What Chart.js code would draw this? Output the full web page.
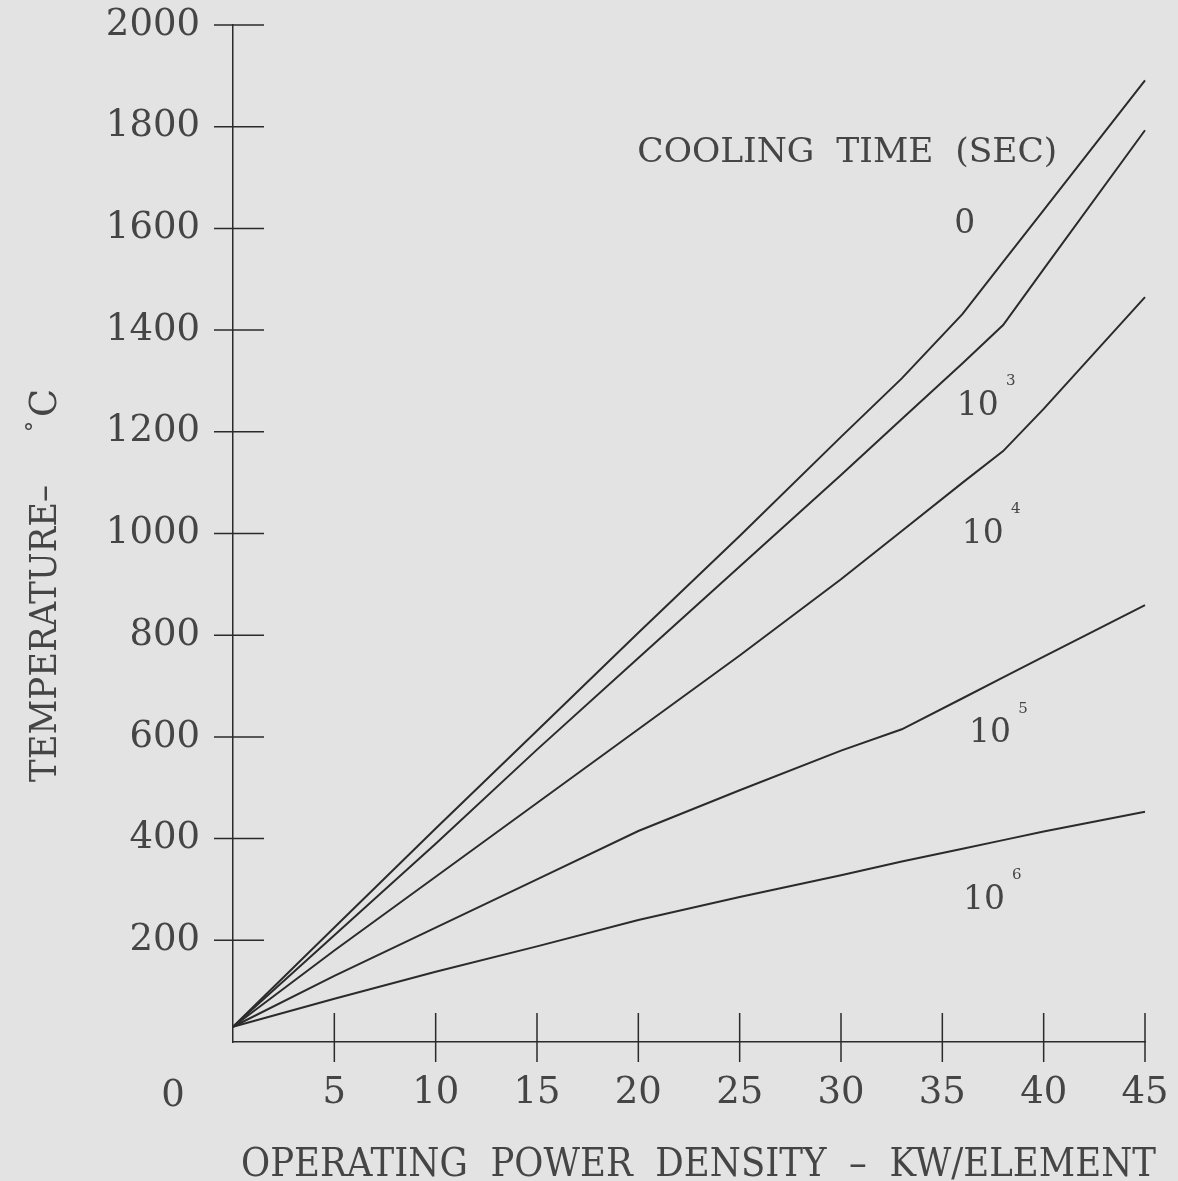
<!DOCTYPE html>
<html>
<head>
<meta charset="utf-8">
<script src="https://cdn.jsdelivr.net/npm/chart.js"></script>
<style>
  html, body { margin: 0; padding: 0; background: #e3e3e3; }
  #wrap { width: 1178px; height: 1181px; }
</style>
</head>
<body>
<div id="wrap"><canvas id="temp-chart" width="1178" height="1181"></canvas></div>
<script>
// operating power density (kW/element) sample points
const power = [0, 5, 10, 15, 20, 25, 30, 33, 36, 38, 40, 45];

// peak temperature (deg C) for each cooling time
const temp0   = [30, 225, 420, 612, 805, 995, 1190, 1305, 1432, 1534, 1636, 1891];
const temp1e3 = [30, 210, 390, 575, 755, 935, 1115, 1225, 1335, 1410, 1520, 1793];
const temp1e4 = [30, 180, 325, 470, 615, 760, 910, 1005, 1100, 1162, 1245, 1465];
const temp1e5 = [30, 130, 225, 320, 415, 495, 573, 615, 676, 717, 758, 859];
const temp1e6 = [30, 85, 138, 188, 240, 285, 328, 355, 380, 397, 414, 453];

const coolingTimes = ['0', '10^3', '10^4', '10^5', '10^6'];
const seriesTemps = [temp0, temp1e3, temp1e4, temp1e5, temp1e6];

const xTicks = [0, 5, 10, 15, 20, 25, 30, 35, 40, 45];
const yTicks = [0, 200, 400, 600, 800, 1000, 1200, 1400, 1600, 1800, 2000];

const xTitle = 'OPERATING  POWER  DENSITY  \u2013  KW/ELEMENT';
const yTitle = 'TEMPERATURE\u2013';
const legendTitle = 'COOLING  TIME  (SEC)';

// where each cooling-time label sits, in data units
const curveLabels = [
  { base: '0',  sup: '',  p: 36.1,  t: 1607 },
  { base: '10', sup: '3', p: 36.75, t: 1250 },
  { base: '10', sup: '4', p: 37.0,  t: 999 },
  { base: '10', sup: '5', p: 37.35, t: 606 },
  { base: '10', sup: '6', p: 37.05, t: 279 }
];

const INK = '#2b2b2b';
const TEXT = '#454545';
const SERIF = '"DejaVu Serif", "Liberation Serif", serif';

function fitText(ctx, text, x, y, width) {
  const w = ctx.measureText(text).width;
  ctx.save();
  ctx.translate(x, y);
  ctx.scale(width / w, 1);
  ctx.fillText(text, 0, 0);
  ctx.restore();
}

const paperPlugin = {
  id: 'paper',
  beforeDraw(chart) {
    const ctx = chart.ctx;
    ctx.save();
    ctx.fillStyle = '#e3e3e3';
    ctx.fillRect(0, 0, chart.width, chart.height);
    ctx.restore();
  }
};

const decorPlugin = {
  id: 'decor',
  afterDraw(chart) {
    const ctx = chart.ctx;
    const xs = chart.scales.x;
    const ys = chart.scales.y;
    const x0 = xs.getPixelForValue(0);
    const y0 = ys.getPixelForValue(0);

    ctx.save();
    // cross ticks on both axes
    ctx.strokeStyle = INK;
    ctx.lineWidth = 1.5;
    ctx.beginPath();
    yTicks.forEach(v => {
      if (v === 0) return;
      const y = ys.getPixelForValue(v);
      ctx.moveTo(x0 - 19, y);
      ctx.lineTo(x0 + 31, y);
    });
    xTicks.forEach(v => {
      if (v === 0) return;
      const x = xs.getPixelForValue(v);
      ctx.moveTo(x, y0 - 29);
      ctx.lineTo(x, y0 + 20);
    });
    ctx.stroke();

    ctx.fillStyle = TEXT;
    ctx.textBaseline = 'alphabetic';

    // shared origin label
    ctx.font = '37px ' + SERIF;
    ctx.textAlign = 'center';
    ctx.fillText('0', x0 - 60, y0 + 64);

    // x axis title
    ctx.font = '40px ' + SERIF;
    ctx.textAlign = 'left';
    fitText(ctx, xTitle, x0 + 8, y0 + 134, 915);

    // y axis title, rotated
    ctx.save();
    ctx.translate(56, y0 - 260);
    ctx.rotate(-Math.PI / 2);
    ctx.font = '37px ' + SERIF;
    fitText(ctx, yTitle, 0, 0, 297);
    ctx.font = '22px ' + SERIF;
    ctx.fillText('\u00b0', 350, -14);
    ctx.font = '37px ' + SERIF;
    ctx.fillText('C', 365, 0);
    ctx.restore();

    // legend heading
    ctx.font = '33px ' + SERIF;
    fitText(ctx, legendTitle, xs.getPixelForValue(19.95), ys.getPixelForValue(1730), 420);

    // cooling time labels
    curveLabels.forEach(l => {
      const cx = xs.getPixelForValue(l.p);
      const cy = ys.getPixelForValue(l.t);
      ctx.font = '33px ' + SERIF;
      ctx.textAlign = 'center';
      ctx.textBaseline = 'middle';
      ctx.fillText(l.base, cx, cy);
      if (l.sup) {
        const w = ctx.measureText(l.base).width;
        ctx.font = '15px ' + SERIF;
        ctx.fillText(l.sup, cx + w / 2 + 12, cy - 25);
      }
    });
    ctx.restore();
  }
};

const ctx = document.getElementById('temp-chart').getContext('2d');
new Chart(ctx, {
  type: 'line',
  data: {
    labels: power,
    datasets: seriesTemps.map((temps, i) => ({
      label: coolingTimes[i],
      data: power.map((p, j) => ({ x: p, y: temps[j] })),
      borderColor: INK,
      borderWidth: 2,
      pointRadius: 0,
      fill: false,
      tension: 0,
      clip: false
    }))
  },
  options: {
    responsive: false,
    animation: false,
    layout: { padding: { top: 25, right: 33, left: 0, bottom: 0 } },
    scales: {
      x: {
        type: 'linear',
        min: 0,
        max: 45,
        afterBuildTicks: scale => { scale.ticks = xTicks.map(v => ({ value: v })); },
        afterFit: scale => {
          scale.height = 139;
          scale.paddingLeft = 0;
          scale.paddingRight = 0;
        },
        grid: { display: false, drawTicks: false },
        border: { display: true, color: INK, width: 1.5 },
        ticks: {
          padding: 29,
          color: TEXT,
          font: { family: SERIF, size: 37 },
          callback: v => (v === 0 ? '' : String(v))
        }
      },
      y: {
        min: 0,
        max: 2000,
        afterBuildTicks: scale => { scale.ticks = yTicks.map(v => ({ value: v })); },
        afterFit: scale => {
          scale.width = 233;
          scale.paddingTop = 0;
          scale.paddingBottom = 0;
        },
        grid: { display: false, drawTicks: false },
        border: { display: true, color: INK, width: 1.5 },
        ticks: {
          padding: 33,
          color: TEXT,
          font: { family: SERIF, size: 37 },
          callback: v => (v === 0 ? '' : String(v))
        }
      }
    },
    plugins: {
      legend: { display: false },
      tooltip: { enabled: false }
    }
  },
  plugins: [paperPlugin, decorPlugin]
});
</script>
</body>
</html>
